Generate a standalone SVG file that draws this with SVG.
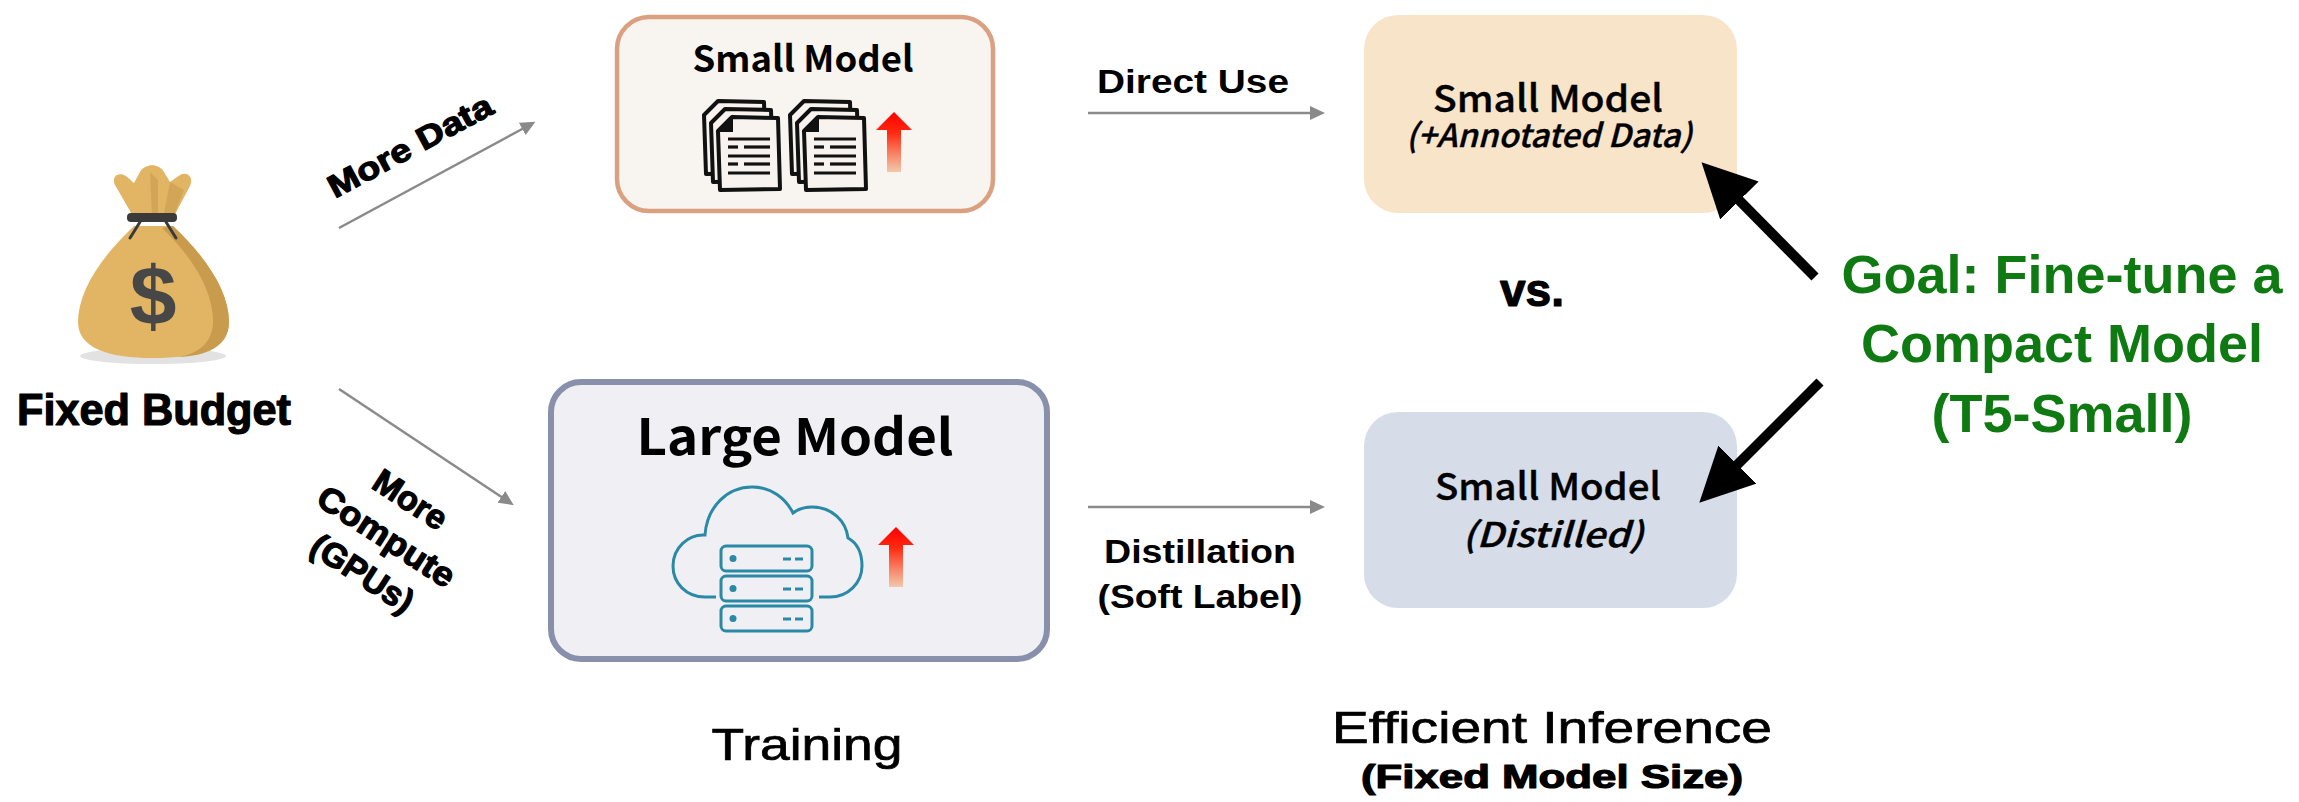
<svg xmlns="http://www.w3.org/2000/svg" width="2299" height="802" viewBox="0 0 2299 802">
  <style>
    .round { font-family: "Liberation Sans", Arial, sans-serif; font-weight: bold; fill: #000; stroke: #000; stroke-width: 1.2; stroke-linejoin: round; }
    .box-title { font-family: "Noto Sans CJK KR", "Liberation Sans", sans-serif; font-weight: bold; fill: #000; }
    .box-sub { font-family: "Noto Sans CJK KR", "Liberation Sans", sans-serif; font-weight: 500; fill: #000; stroke: #000; stroke-width: 0.4; }
    .edge-lbl { font-family: "Liberation Sans", Arial, sans-serif; font-weight: bold; fill: #000; }
    .goal { font-family: "Liberation Sans", Arial, sans-serif; font-weight: bold; fill: #0f7a12; }
    .stage { font-family: "Liberation Sans", Arial, sans-serif; font-weight: normal; fill: #000; stroke: #000; stroke-width: 0.7; }
    .gray-line { stroke: #8a8a8a; stroke-width: 2.5; fill: none; }
    .black-line { stroke: #000; stroke-width: 10; fill: none; }
    .teal { stroke: #2a8aa6; stroke-width: 3; fill: none; }
    .doc { stroke: #111; stroke-width: 4; fill: #f8f3ee; stroke-linejoin: round; }
    .docline { stroke: #111; stroke-width: 3.2; }
  </style>
  <defs>
    <marker id="grayHead" markerUnits="userSpaceOnUse" markerWidth="16" markerHeight="14" refX="2" refY="7" orient="auto">
      <path d="M0,0 L15,7 L0,14 Z" fill="#8a8a8a"/>
    </marker>
    <marker id="blackHead" markerUnits="userSpaceOnUse" markerWidth="56" markerHeight="56" refX="12" refY="27" orient="auto">
      <path d="M0,0 L54,27 L0,54 Z" fill="#000"/>
    </marker>
    <linearGradient id="upGrad" x1="0" y1="0" x2="0" y2="1">
      <stop offset="0" stop-color="#ff0000"/>
      <stop offset="0.35" stop-color="#ff2a10"/>
      <stop offset="1" stop-color="#f3c2a2" stop-opacity="0.9"/>
    </linearGradient>
    <!-- one page of a document stack -->
    <g id="page">
      <path class="doc" d="M14,0 L60,1 L62,72 L2,73 L0,14 Z"/>
    </g>
    <g id="docStack">
      <use href="#page" x="-14" y="-16"/>
      <use href="#page" x="-7" y="-8"/>
      <path class="doc" d="M14,0 L60,1 L62,72 L2,73 L0,14 Z"/>
      <path d="M0,14 L14,0 L14,14 Z" fill="#111" stroke="#111" stroke-width="2"/>
      <line class="docline" x1="10" y1="22" x2="52" y2="22"/>
      <line class="docline" x1="10" y1="30" x2="20" y2="30"/>
      <line class="docline" x1="26" y1="30" x2="52" y2="30"/>
      <line class="docline" x1="10" y1="39" x2="52" y2="39"/>
      <line class="docline" x1="10" y1="47" x2="20" y2="47"/>
      <line class="docline" x1="26" y1="47" x2="52" y2="47"/>
      <line class="docline" x1="10" y1="56" x2="52" y2="56"/>
    </g>
    <!-- red "increase" arrow -->
    <path id="upArrow" d="M0,18 L18,0 L36,18 L25,18 L25,60 L11,60 L11,18 Z" fill="url(#upGrad)"/>
    <!-- one server unit -->
    <g id="server">
      <rect class="teal" x="0" y="0" width="91" height="25" rx="5"/>
      <circle cx="12" cy="12.5" r="3.5" fill="#2a8aa6"/>
      <line class="teal" x1="62" y1="13" x2="70" y2="13"/>
      <line class="teal" x1="74" y1="13" x2="82" y2="13"/>
    </g>
  </defs>

  <rect width="2299" height="802" fill="#fff"/>

  <!-- budget: money bag -->
  <g id="budget">
    <ellipse cx="153" cy="356" rx="73" ry="8" fill="#e2e2e2"/>
    <path d="M134,226 C100,258 78,292 78,322 C78,348 108,358 153,358 C198,358 229,348 229,322 C229,292 207,258 173,226 Z" fill="#e2b565"/>
    <path d="M162,228 C196,260 214,295 213,323 C212,343 198,354 178,357 C206,356 229,347 229,322 C229,292 207,258 173,226 Z" fill="#c99b4d"/>
    <path d="M134,218 L115,185 C111,177 118,171 126,176 L134,183 L140,172 C145,163 159,163 164,172 L170,182 L180,175 C188,171 194,178 190,186 L173,218 Z" fill="#e2b565"/>
    <path d="M150,172 L152,218 L158,218 L158,180 Z" fill="#c99b4d" opacity="0.6"/>
    <path d="M170,182 L163,218 L173,218 L184,190 Z" fill="#c99b4d" opacity="0.6"/>
    <rect x="127" y="213" width="50" height="9" rx="4" fill="#3a3a3a"/>
    <path d="M140,222 L130,238 M166,222 L176,238" stroke="#3a3a3a" stroke-width="3" stroke-linecap="round"/>
    <text x="153" y="325" text-anchor="middle" font-family="Liberation Sans, Arial, sans-serif" font-weight="bold" font-size="84" fill="#474747">$</text>
    <text class="round" x="154" y="425" text-anchor="middle" font-size="44" textLength="274" lengthAdjust="spacingAndGlyphs">Fixed Budget</text>
  </g>

  <!-- training: small model with more data -->
  <g id="small-model-data">
    <rect x="617" y="17" width="376" height="194" rx="32" fill="#f8f4ef" stroke="#dba080" stroke-width="4.5"/>
    <text class="box-title" x="803" y="72" text-anchor="middle" font-size="36" textLength="221" lengthAdjust="spacingAndGlyphs">Small Model</text>
    <use href="#docStack" x="718" y="117"/>
    <use href="#docStack" x="804" y="117"/>
    <use href="#upArrow" x="876" y="112"/>
  </g>

  <!-- training: large model with more compute -->
  <g id="large-model">
    <rect x="551" y="382" width="496" height="277" rx="30" fill="#efeff4" stroke="#8890ab" stroke-width="6"/>
    <text class="box-title" x="795" y="455" text-anchor="middle" font-size="50" textLength="317" lengthAdjust="spacingAndGlyphs">Large Model</text>
    <path class="teal" d="M716,597 L705,597 C686,597 673,583 673,566 C673,548 688,534 705,535 C707,506 728,487 752,487 C772,487 786,499 793,513 C798,509 805,507 812,507 C832,507 846,521 848,538 C857,543 862,553 862,566 C862,583 848,597 830,597 L819,597"/>
    <use href="#server" x="721" y="546"/>
    <use href="#server" x="721" y="576"/>
    <use href="#server" x="721" y="606"/>
    <use href="#upArrow" x="878" y="527"/>
  </g>

  <!-- inference: small model trained on annotated data -->
  <g id="small-model-annotated">
    <rect x="1364" y="15" width="373" height="198" rx="34" fill="#f8e4c9"/>
    <text class="box-sub" x="1548" y="112" text-anchor="middle" font-size="37" textLength="230" lengthAdjust="spacingAndGlyphs">Small Model</text>
    <text class="box-sub" x="1549" y="147" text-anchor="middle" font-size="32" font-style="italic" textLength="286" lengthAdjust="spacingAndGlyphs">(+Annotated Data)</text>
  </g>

  <!-- inference: distilled small model -->
  <g id="small-model-distilled">
    <rect x="1364" y="412" width="373" height="196" rx="34" fill="#d6dce8"/>
    <text class="box-sub" x="1548" y="500" text-anchor="middle" font-size="37" textLength="226" lengthAdjust="spacingAndGlyphs">Small Model</text>
    <text class="box-sub" x="1553" y="547" text-anchor="middle" font-size="34" font-style="italic" textLength="181" lengthAdjust="spacingAndGlyphs">(Distilled)</text>
  </g>

  <g id="versus">
    <text class="round" x="1532" y="306" text-anchor="middle" font-size="46">vs.</text>
  </g>

  <g id="goal">
    <text class="goal" x="2062" y="293" text-anchor="middle" font-size="54">Goal: Fine-tune a</text>
    <text class="goal" x="2062" y="362" text-anchor="middle" font-size="54">Compact Model</text>
    <text class="goal" x="2062" y="432" text-anchor="middle" font-size="54">(T5-Small)</text>
  </g>

  <g id="stage-labels">
    <text class="stage" x="807" y="760" text-anchor="middle" font-size="44" textLength="191" lengthAdjust="spacingAndGlyphs">Training</text>
    <text class="stage" x="1552" y="743" text-anchor="middle" font-size="44" textLength="440" lengthAdjust="spacingAndGlyphs">Efficient Inference</text>
    <text class="round" x="1552" y="788" text-anchor="middle" font-size="34" textLength="382" lengthAdjust="spacingAndGlyphs">(Fixed Model Size)</text>
  </g>

  <!-- connectors -->
  <g id="connectors">
    <line class="gray-line" x1="339" y1="228" x2="524" y2="128" marker-end="url(#grayHead)"/>
    <line class="gray-line" x1="339" y1="389" x2="503" y2="498" marker-end="url(#grayHead)"/>
    <line class="gray-line" x1="1088" y1="113" x2="1312" y2="113" marker-end="url(#grayHead)"/>
    <line class="gray-line" x1="1088" y1="507" x2="1312" y2="507" marker-end="url(#grayHead)"/>
    <line class="black-line" x1="1815" y1="277" x2="1731" y2="192" marker-end="url(#blackHead)"/>
    <line class="black-line" x1="1820" y1="382" x2="1729" y2="473" marker-end="url(#blackHead)"/>

    <text class="round" transform="translate(410,146) rotate(-28.3)" x="0" y="11" text-anchor="middle" font-size="32" textLength="182" lengthAdjust="spacingAndGlyphs">More Data</text>
    <g transform="translate(386,537) rotate(33)">
      <text class="round" x="0" y="-33" text-anchor="middle" font-size="34">More</text>
      <text class="round" x="0" y="11" text-anchor="middle" font-size="34" textLength="157" lengthAdjust="spacingAndGlyphs">Compute</text>
      <text class="round" x="0" y="55" text-anchor="middle" font-size="34">(GPUs)</text>
    </g>
    <text class="edge-lbl" x="1193" y="93" text-anchor="middle" font-size="34" textLength="192" lengthAdjust="spacingAndGlyphs">Direct Use</text>
    <text class="edge-lbl" x="1200" y="563" text-anchor="middle" font-size="34" textLength="192" lengthAdjust="spacingAndGlyphs">Distillation</text>
    <text class="edge-lbl" x="1200" y="608" text-anchor="middle" font-size="34" textLength="205" lengthAdjust="spacingAndGlyphs">(Soft Label)</text>
  </g>
</svg>
